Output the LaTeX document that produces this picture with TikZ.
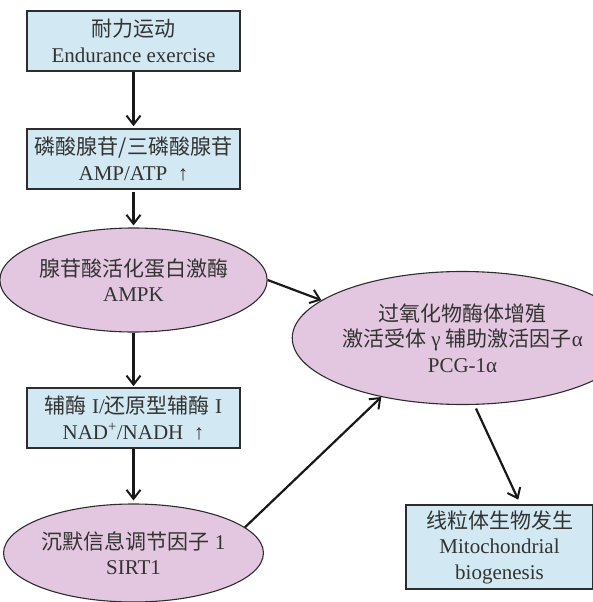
\documentclass[tikz,border=0pt]{standalone}
\usepackage{fontspec}
\setmainfont{Liberation Serif}
\newfontfamily\cjk{Noto Sans CJK SC}
\usetikzlibrary{arrows.meta, positioning, shapes.geometric, calc}
\definecolor{boxblue}{RGB}{210,232,242}
\definecolor{ellpink}{RGB}{227,199,224}
\definecolor{edgegray}{RGB}{45,45,45}
\newcommand{\zh}[1]{{\cjk #1}}
\tikzset{
  state/.style={
    draw=edgegray,
    rectangle,
    line width=1.6pt,
    fill=boxblue,
    minimum height=60pt,
    minimum width=213pt,
    inner sep=0pt,
    align=center,
    text=black!80,
    font=\fontsize{21}{25.5}\selectfont,
  },
  enzstate/.style={
    state,
    ellipse,
    line width=1.1pt,
    fill=ellpink
  },
  arrow/.style={
    -{Straight Barb[length=9pt,width=14pt,line width=2pt]},
    line width=2.2pt,
    black!90
  }
}
\begin{document}
\begin{tikzpicture}
\useasboundingbox (0,0) rectangle (593pt,-602pt);

% linke Spalte
\node[state] (ex) at (133.5pt,-41pt) {\zh{耐力运动}\\Endurance exercise};
\node[state, node distance=118pt, below of=ex] (ratio) {\zh{磷酸腺苷/三磷酸腺苷}\\AMP/ATP\ \ ↑};
\node[enzstate, node distance=121pt, below of=ratio, minimum width=236pt, minimum height=104pt] (ampk) {\zh{腺苷酸活化蛋白激酶}\\AMPK};
\node[state, node distance=138pt, below of=ampk] (nad) {\zh{辅酶} I/\zh{还原型辅酶} I\\NAD\textsuperscript{+}/NADH\ \ ↑};
\node[enzstate, node distance=135pt, below of=nad, minimum width=247pt, minimum height=98pt] (sirt) {\zh{沉默信息调节因子} 1\\SIRT1};

% rechte Spalte
\node[enzstate, minimum width=261pt, minimum height=133pt] (pcg) at ($(ampk)+(329pt,-58pt)$) {\zh{过氧化物酶体增殖}\\\zh{激活受体} γ \zh{辅助激活因子}α\\PCG-1α};
\node[state, minimum width=187pt, minimum height=84pt] (bio) at ($(pcg)+(37pt,-209pt)$) {\zh{线粒体生物发生}\\Mitochondrial\\biogenesis};

% Pfeile
\draw[arrow, shorten >=2pt] (ex) -- (ratio);
\draw[arrow, shorten <=2pt, shorten >=2pt] (ratio) -- (ampk);
\draw[arrow, shorten >=1pt] (ampk) -- (nad);
\draw[arrow, shorten >=3pt] (nad) -- (sirt);
\draw[arrow] (ampk.east) -- (pcg.165);
\draw[arrow] (sirt.13) -- (pcg.216);
\draw[arrow, shorten <=4pt, shorten >=5pt] (pcg.280) -- (bio.64);

\end{tikzpicture}
\end{document}
